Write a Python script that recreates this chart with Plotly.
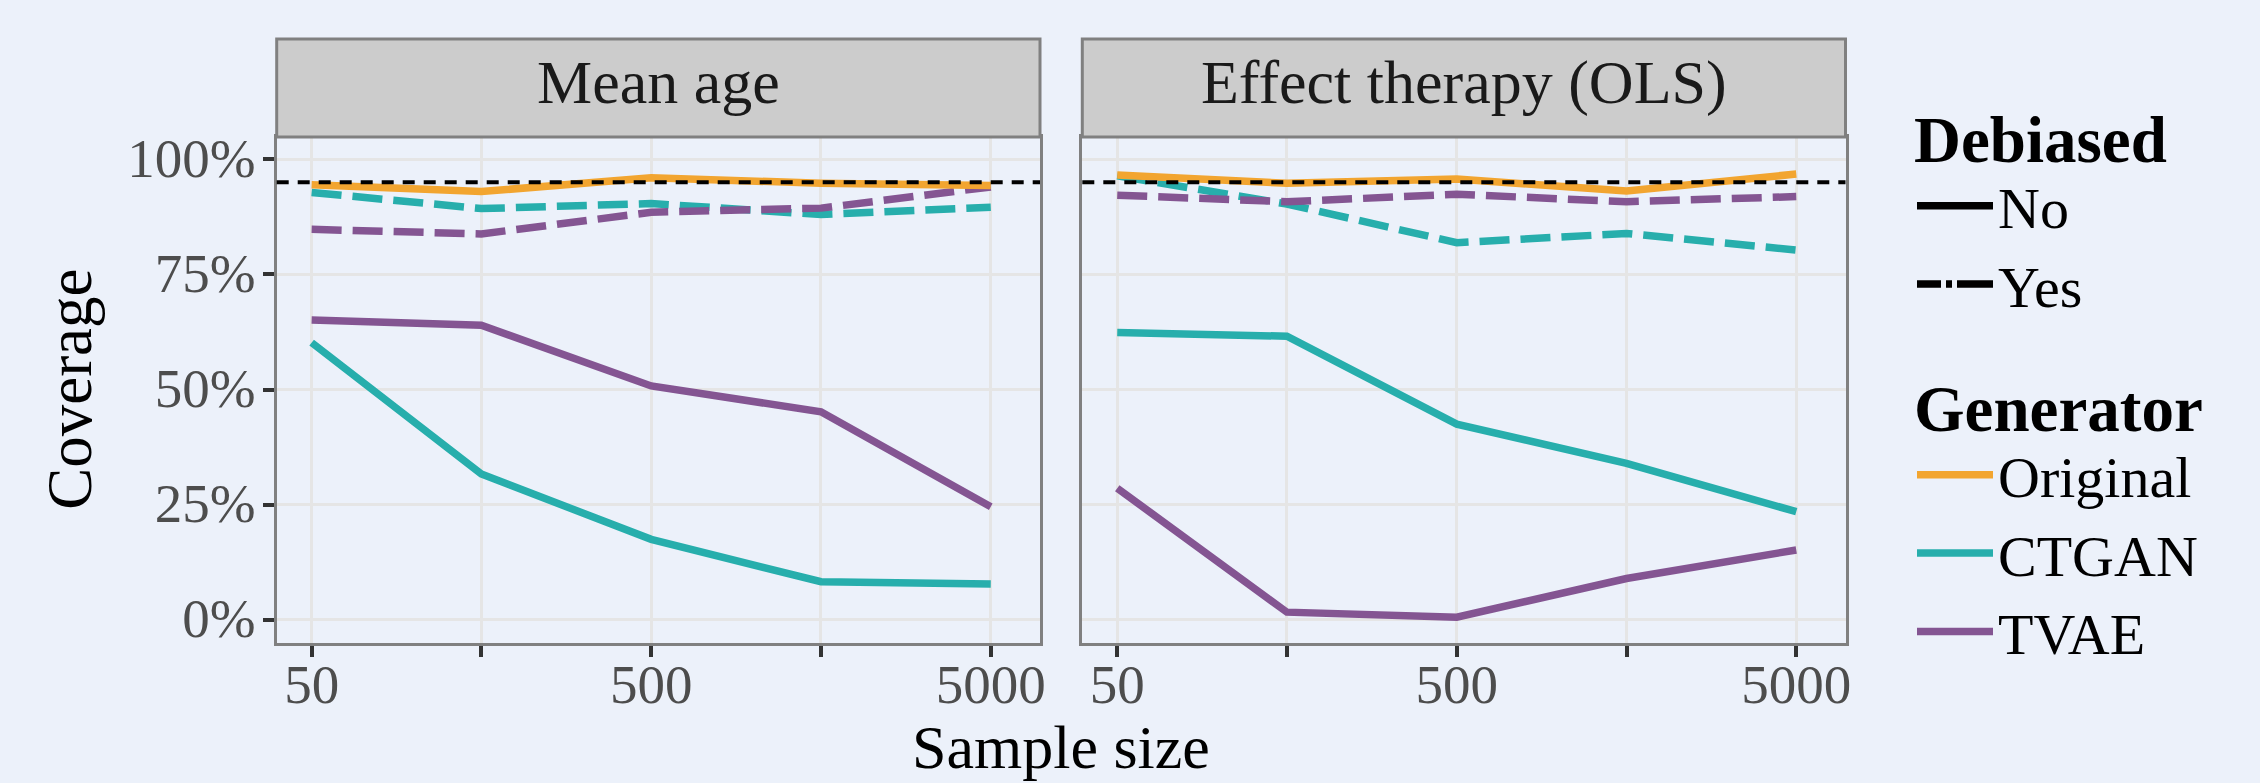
import plotly.graph_objects as go
import math

# ---------------- data ----------------
sample_sizes = [50, 158, 500, 1581, 5000]
x_tick_labels = ["50", "", "500", "", "5000"]
y_tick_vals = [0, 0.25, 0.5, 0.75, 1.0]
y_tick_labels = ["0%", "25%", "50%", "75%", "100%"]
estimands = ["Mean age", "Effect therapy (OLS)"]
generators = ["Original", "CTGAN", "TVAE"]
debiased_levels = ["No", "Yes"]
target_coverage = 0.95

# Mean age
mean_age_original_no = [0.945, 0.930, 0.960, 0.948, 0.943]
mean_age_ctgan_no = [0.602, 0.317, 0.175, 0.083, 0.078]
mean_age_tvae_no = [0.651, 0.640, 0.508, 0.452, 0.246]
mean_age_ctgan_yes = [0.928, 0.893, 0.904, 0.880, 0.896]
mean_age_tvae_yes = [0.848, 0.838, 0.885, 0.894, 0.940]

# Effect therapy (OLS)
effect_original_no = [0.966, 0.948, 0.957, 0.931, 0.968]
effect_ctgan_no = [0.624, 0.616, 0.425, 0.340, 0.235]
effect_tvae_no = [0.286, 0.017, 0.006, 0.090, 0.152]
effect_ctgan_yes = [0.964, 0.903, 0.819, 0.839, 0.803]
effect_tvae_yes = [0.922, 0.908, 0.924, 0.908, 0.919]

# ---------------- style ----------------
W, H = 2260, 783
BG = "#ECF1FA"
COLORS = {"Original": "#F2A530", "CTGAN": "#27AEAC", "TVAE": "#845592"}
DASHES = {"No": "solid", "Yes": "30px,11px"}
LEGEND_DASHES = {"No": "solid", "Yes": "24px,5px,6px,5px,40px"}
FONT = "Liberation Serif"
LW = 7.5

panels = [
    {"Original": {"No": mean_age_original_no},
     "CTGAN": {"No": mean_age_ctgan_no, "Yes": mean_age_ctgan_yes},
     "TVAE": {"No": mean_age_tvae_no, "Yes": mean_age_tvae_yes}},
    {"Original": {"No": effect_original_no},
     "CTGAN": {"No": effect_ctgan_no, "Yes": effect_ctgan_yes},
     "TVAE": {"No": effect_tvae_no, "Yes": effect_tvae_yes}},
]

fig = go.Figure()

for i, panel in enumerate(panels):
    xa = "x" if i == 0 else "x2"
    ya = "y" if i == 0 else "y2"
    for deb in ["Yes", "No"]:
        for gen in ["CTGAN", "TVAE", "Original"]:
            if deb in panel[gen]:
                fig.add_trace(go.Scatter(
                    x=sample_sizes, y=panel[gen][deb], mode="lines",
                    line=dict(color=COLORS[gen], width=LW, dash=DASHES[deb]),
                    xaxis=xa, yaxis=ya, showlegend=False, hoverinfo="skip"))

# legend entries
for deb in debiased_levels:
    fig.add_trace(go.Scatter(x=[None], y=[None], mode="lines", name=deb,
                             line=dict(color="black", width=LW, dash=LEGEND_DASHES[deb]),
                             legend="legend", showlegend=True))
for gen in generators:
    fig.add_trace(go.Scatter(x=[None], y=[None], mode="lines", name=gen,
                             line=dict(color=COLORS[gen], width=LW),
                             legend="legend2", showlegend=True))

# ---------------- layout ----------------
def px_x(v):
    return v / W

def px_y(v):
    return (H - v) / H

plot_top, plot_bot = 137, 642.7
strip_top = 39
p1 = (276.7, 1040.0)
p2 = (1082.3, 1845.5)

x_lo = math.log10(sample_sizes[0]) - 0.1029
x_hi = math.log10(sample_sizes[-1]) + 0.1450

TICKFONT = dict(family=FONT, size=55, color="#4D4D4D")

xaxis_common = dict(
    type="log", range=[x_lo, x_hi], tickvals=sample_sizes, ticktext=x_tick_labels,
    ticks="outside", ticklen=11, tickwidth=3.5, tickcolor="#333333",
    tickfont=TICKFONT, ticklabelstandoff=-20,
    showgrid=True, gridcolor="#E5E5E5", gridwidth=3.3,
    showline=True, mirror=True, linecolor="#808080", linewidth=3,
    zeroline=False, automargin=False,
)
yaxis_common = dict(
    range=[-0.0493, 1.0484], tickvals=y_tick_vals,
    showgrid=True, gridcolor="#E5E5E5", gridwidth=3.3,
    showline=True, mirror=True, linecolor="#808080", linewidth=3,
    zeroline=False, automargin=False, domain=[px_y(plot_bot), px_y(plot_top)],
)

LEG_ITEM_FONT = dict(family=FONT, size=58, color="black")
LEG_TITLE_FONT = dict(family=FONT, size=65, color="black")

fig.update_layout(
    width=W, height=H, margin=dict(l=0, r=0, t=0, b=0, pad=0, autoexpand=False),
    paper_bgcolor=BG, plot_bgcolor=BG,
    font=dict(family=FONT, color="black"),
    xaxis=dict(xaxis_common, domain=[px_x(p1[0]), px_x(p1[1])], anchor="y"),
    xaxis2=dict(xaxis_common, domain=[px_x(p2[0]), px_x(p2[1])], anchor="y2"),
    yaxis=dict(yaxis_common, anchor="x", ticktext=y_tick_labels,
               ticks="outside", ticklen=11, tickwidth=3.5, tickcolor="#333333",
               tickfont=TICKFONT, ticklabelstandoff=-4, ticklabelshift=-2),
    yaxis2=dict(yaxis_common, anchor="x2", matches="y", showticklabels=False, ticks=""),
    legend=dict(
        title=dict(text="<b>Debiased</b>", font=LEG_TITLE_FONT),
        font=LEG_ITEM_FONT,
        x=px_x(1912), y=px_y(77), xanchor="left", yanchor="top",
        bgcolor="rgba(0,0,0,0)", itemwidth=76,
    ),
    legend2=dict(
        title=dict(text="<b>Generator</b>", font=LEG_TITLE_FONT),
        font=LEG_ITEM_FONT,
        x=px_x(1912), y=px_y(346), xanchor="left", yanchor="top",
        bgcolor="rgba(0,0,0,0)", itemwidth=76,
    ),
)

shapes = []
annotations = []
for i, xa in enumerate(["x", "x2"]):
    ya = "y" if i == 0 else "y2"
    # reference line at nominal coverage
    shapes.append(dict(type="line", xref=f"{xa} domain", x0=0, x1=1,
                       yref=ya, y0=target_coverage, y1=target_coverage,
                       line=dict(color="black", width=4, dash="12px,9px"),
                       layer="above"))
    # facet strip
    shapes.append(dict(type="rect", xref=f"{xa} domain", x0=0, x1=1,
                       yref="paper", y0=px_y(plot_top), y1=px_y(strip_top),
                       fillcolor="#CCCCCC", line=dict(color="#808080", width=3),
                       layer="above"))
    annotations.append(dict(text=estimands[i], xref=f"{xa} domain", x=0.5,
                            yref="paper", y=px_y(82), xanchor="center", yanchor="middle",
                            showarrow=False, font=dict(family=FONT, size=62, color="#1A1A1A")))

annotations.append(dict(text="Coverage", xref="paper", yref="paper",
                        x=px_x(70), y=px_y((plot_top + plot_bot) / 2), textangle=-90,
                        xanchor="center", yanchor="middle", showarrow=False,
                        font=dict(family=FONT, size=63, color="black")))
annotations.append(dict(text="Sample size", xref="paper", yref="paper",
                        x=px_x((p1[0] + p2[1]) / 2), y=px_y(747),
                        xanchor="center", yanchor="middle", showarrow=False,
                        font=dict(family=FONT, size=62, color="black")))

fig.update_layout(shapes=shapes, annotations=annotations)

fig.write_html("out.html")
